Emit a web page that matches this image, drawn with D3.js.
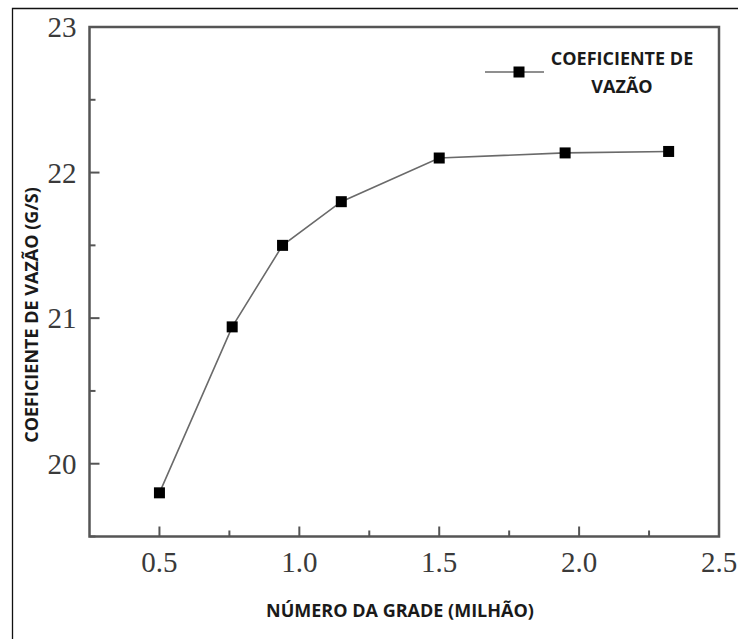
<!DOCTYPE html>
<html>
<head>
<meta charset="utf-8">
<script src="https://cdn.jsdelivr.net/npm/d3@7"></script>
<style>
  body { margin: 0; background: #fff; }
  svg { display: block; }
</style>
</head>
<body>
<script>
// valores
const gridSize = [0.5, 0.76, 0.94, 1.15, 1.5, 1.95, 2.32];
const flowCoef = [19.80, 20.94, 21.50, 21.80, 22.10, 22.135, 22.145];
const xTicks = [0.5, 1.0, 1.5, 2.0, 2.5];
const yTicks = [20, 21, 22, 23];
const seriesName = ["COEFICIENTE DE", "VAZÃO"];

function main(){
    const width = 738;
    const height = 639;
    const left = 89.5, right = 719, top = 27, bottom = 536.5;
    const axisColor = "#555";
    const titleSize = 18;

    const svg = d3.select("body").append("svg")
        .attr("width", width)
        .attr("height", height);

    // moldura da imagem
    svg.append("path")
        .attr("d", `M12.5,${height}V8.5H${width}`)
        .attr("fill", "none")
        .attr("stroke", "#111")
        .attr("stroke-width", 1.3);

    const x = d3.scaleLinear().domain([0.25, 2.5]).range([left, right]);
    const y = d3.scaleLinear().domain([19.5, 23]).range([bottom, top]);

    const data = gridSize.map((g, i) => ({x: g, y: flowCoef[i]}));

    // ticks menores
    const xMinor = d3.range(0.75, 2.5, 0.5);
    const yMinor = d3.range(19.5, 23, 0.5).filter(v => !yTicks.includes(v));

    const gx = svg.append("g").attr("transform", `translate(0,${bottom})`);
    gx.selectAll(".major").data(xTicks.slice(0, -1)).enter().append("line")
        .attr("x1", d => x(d)).attr("x2", d => x(d))
        .attr("y1", 0).attr("y2", -10)
        .attr("stroke", axisColor).attr("stroke-width", 2);
    gx.selectAll(".minor").data(xMinor).enter().append("line")
        .attr("x1", d => x(d)).attr("x2", d => x(d))
        .attr("y1", 0).attr("y2", -6)
        .attr("stroke", axisColor).attr("stroke-width", 2);
    gx.selectAll("text").data(xTicks).enter().append("text")
        .attr("x", d => x(d)).attr("y", 35)
        .attr("text-anchor", "middle")
        .attr("font-family", "Liberation Serif, serif")
        .attr("font-size", 29)
        .attr("fill", "#3a3a3a")
        .text(d => d.toFixed(1));

    const gy = svg.append("g").attr("transform", `translate(${left},0)`);
    gy.selectAll(".major").data(yTicks.slice(0, -1)).enter().append("line")
        .attr("x1", 0).attr("x2", 10)
        .attr("y1", d => y(d)).attr("y2", d => y(d))
        .attr("stroke", axisColor).attr("stroke-width", 2);
    gy.selectAll(".minor").data(yMinor).enter().append("line")
        .attr("x1", 0).attr("x2", 6)
        .attr("y1", d => y(d)).attr("y2", d => y(d))
        .attr("stroke", axisColor).attr("stroke-width", 2);
    gy.selectAll("text").data(yTicks).enter().append("text")
        .attr("x", -13).attr("y", d => y(d) + 10)
        .attr("text-anchor", "end")
        .attr("font-family", "Liberation Serif, serif")
        .attr("font-size", 29)
        .attr("fill", "#3a3a3a")
        .text(d => d);

    // caixa do gráfico
    svg.append("rect")
        .attr("x", left).attr("y", top)
        .attr("width", right - left).attr("height", bottom - top)
        .attr("fill", "none")
        .attr("stroke", axisColor)
        .attr("stroke-width", 2.5);

    const line = d3.line().x(d => x(d.x)).y(d => y(d.y));
    svg.append("path")
        .datum(data)
        .attr("d", line)
        .attr("fill", "none")
        .attr("stroke", "#6a6a6a")
        .attr("stroke-width", 1.6);

    const m = 11;
    svg.selectAll(".pt").data(data).enter().append("rect")
        .attr("class", "pt")
        .attr("x", d => x(d.x) - m / 2)
        .attr("y", d => y(d.y) - m / 2)
        .attr("width", m).attr("height", m)
        .attr("fill", "#000");

    // legenda
    const lg = svg.append("g").attr("transform", "translate(485,72)");
    lg.append("line").attr("x1", 0).attr("x2", 59).attr("y1", 0).attr("y2", 0)
        .attr("stroke", "#6a6a6a").attr("stroke-width", 1.6);
    lg.append("rect").attr("x", 34 - m / 2).attr("y", -m / 2)
        .attr("width", m).attr("height", m).attr("fill", "#000");
    lg.selectAll("text").data(seriesName).enter().append("text")
        .attr("x", 137).attr("y", (d, i) => -7.5 + i * 28)
        .attr("text-anchor", "middle")
        .attr("font-family", "Open Sans, sans-serif")
        .attr("font-weight", "bold")
        .attr("font-size", titleSize)
        .attr("fill", "#1a1a1a")
        .text(d => d);

    // títulos dos eixos
    svg.append("text")
        .attr("x", 400).attr("y", 616.5)
        .attr("text-anchor", "middle")
        .attr("font-family", "Open Sans, sans-serif")
        .attr("font-weight", "bold")
        .attr("font-size", titleSize)
        .attr("fill", "#1a1a1a")
        .text("NÚMERO DA GRADE (MILHÃO)");

    svg.append("text")
        .attr("transform", "translate(37.5,315) rotate(-90)")
        .attr("text-anchor", "middle")
        .attr("font-family", "Open Sans, sans-serif")
        .attr("font-weight", "bold")
        .attr("font-size", titleSize)
        .attr("fill", "#1a1a1a")
        .text("COEFICIENTE DE VAZÃO (G/S)");
}
main();
</script>
</body>
</html>
